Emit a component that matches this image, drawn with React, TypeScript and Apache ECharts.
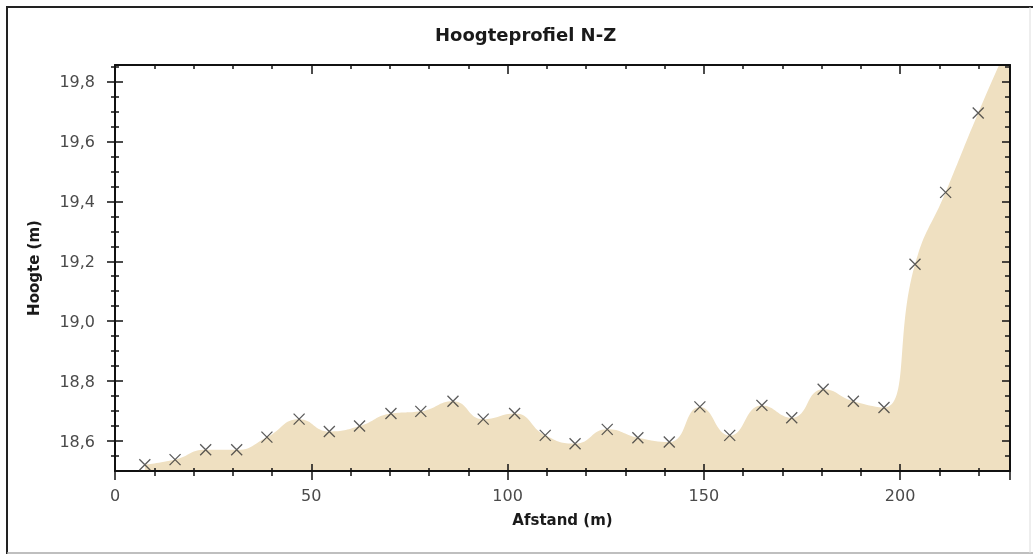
import React, { useEffect, useRef } from "react";
import * as echarts from "echarts";

const distances = [7.6, 15.3, 23.1, 31.0, 38.7, 46.9, 54.6, 62.3, 70.3, 77.9, 86.1, 93.8, 101.8, 109.6, 117.2, 125.4, 133.2, 141.2, 149.0, 156.6, 164.8, 172.4, 180.4, 188.1, 195.9, 203.8, 211.6, 219.9, 227.8];
const heights = [18.521, 18.538, 18.571, 18.571, 18.613, 18.673, 18.632, 18.65, 18.692, 18.699, 18.733, 18.673, 18.692, 18.619, 18.591, 18.639, 18.611, 18.597, 18.714, 18.619, 18.719, 18.678, 18.773, 18.733, 18.712, 19.19, 19.43, 19.695, 19.93];

const xMin = 0;
const xMax = 228;
const xInterval = 50;
const yMin = 18.5;
const yMax = 19.855;
const yMajorTicks = [18.6, 18.8, 19.0, 19.2, 19.4, 19.6, 19.8];
const yMinorTicks = [18.55, 18.65, 18.7, 18.75, 18.85, 18.9, 18.95, 19.05, 19.1, 19.15, 19.25, 19.3, 19.35, 19.45, 19.5, 19.55, 19.65, 19.7, 19.75, 19.85];

const FONT = "DejaVu Sans";
const AXIS_COLOR = "#111";

const tl = () => ({ color: AXIS_COLOR, width: 1.5 });
const al = () => ({ color: AXIS_COLOR, width: 2 });

export default function App() {
  const ref = useRef<HTMLDivElement>(null);
  useEffect(() => {
    if (!ref.current) return;
    const chart = echarts.init(ref.current, null, { renderer: "svg" });
    const points = distances.map((d, i) => [d, heights[i]]);

    const xAxes = [
      {
        type: "value", min: xMin, max: xMax, interval: xInterval, position: "bottom", z: 3,
        name: "Afstand (m)",
        nameLocation: "middle",
        nameGap: 41,
        nameTextStyle: { fontFamily: FONT, fontSize: 15, fontWeight: "bold", color: "#1a1a1a" },
        axisLine: { show: true, lineStyle: al() },
        axisTick: { show: true, inside: false, length: 9, lineStyle: tl() },
        minorTick: { show: true, splitNumber: 5, length: 5, lineStyle: tl() },
        axisLabel: { show: true, showMaxLabel: false, margin: 16, fontFamily: FONT, fontSize: 16, color: "#4a4a4a" },
        splitLine: { show: false },
      },
      {
        type: "value", min: xMin, max: xMax, interval: xInterval, position: "bottom", z: 3,
        axisLine: { show: false },
        axisTick: { show: true, inside: true, length: 7, lineStyle: tl() },
        minorTick: { show: true, splitNumber: 5, length: 3, lineStyle: tl() },
        axisLabel: { show: false },
        splitLine: { show: false },
      },
      {
        type: "value", min: xMin, max: xMax, interval: xInterval, position: "top", z: 3,
        axisLine: { show: true, lineStyle: al() },
        axisTick: { show: true, inside: true, length: 9, lineStyle: tl() },
        minorTick: { show: true, splitNumber: 5, length: 4, lineStyle: tl() },
        axisLabel: { show: false },
        splitLine: { show: false },
      },
    ];

    const yPlain = (position: string, inside: boolean, length: number, ticks: number[], line: boolean) => ({
      type: "value", min: yMin, max: yMax, position, z: 3,
      axisLine: { show: line, lineStyle: al() },
      axisTick: { show: true, inside, length, customValues: ticks, lineStyle: tl() },
      axisLabel: { show: false },
      splitLine: { show: false },
    });

    const yAxes = [
      {
        type: "value", min: yMin, max: yMax, position: "left", z: 3,
        name: "Hoogte (m)",
        nameLocation: "middle",
        nameGap: 74,
        nameRotate: 90,
        nameTextStyle: { fontFamily: FONT, fontSize: 15, fontWeight: "bold", color: "#1a1a1a" },
        axisLine: { show: true, lineStyle: al() },
        axisTick: { show: true, inside: false, length: 8, customValues: yMajorTicks, lineStyle: tl() },
        axisLabel: {
          show: true,
          margin: 20,
          customValues: yMajorTicks,
          fontFamily: FONT,
          fontSize: 16,
          color: "#4a4a4a",
          formatter: (v: number) => v.toFixed(1).replace(".", ","),
        },
        splitLine: { show: false },
      },
      yPlain("left", false, 4, yMinorTicks, false),
      yPlain("left", true, 8, yMajorTicks, false),
      yPlain("left", true, 4, yMinorTicks, false),
      yPlain("right", true, 8, yMajorTicks, true),
      yPlain("right", true, 5, yMinorTicks, false),
    ];

    chart.setOption({
      animation: false,
      title: {
        text: "Hoogteprofiel N-Z",
        left: 430,
        top: 20,
        textStyle: { fontFamily: FONT, fontSize: 18, fontWeight: "bold", color: "#1a1a1a" },
      },
      grid: { left: 115, top: 65, right: 23, bottom: 83 },
      graphic: [
        { type: "line", shape: { x1: 6, y1: 7, x2: 1033, y2: 7 }, style: { stroke: "#222", lineWidth: 2 } },
        { type: "line", shape: { x1: 7, y1: 6, x2: 7, y2: 554 }, style: { stroke: "#222", lineWidth: 2 } },
        { type: "line", shape: { x1: 7, y1: 553, x2: 1033, y2: 553 }, style: { stroke: "#aaa", lineWidth: 1.5 } },
        { type: "line", shape: { x1: 1030, y1: 7, x2: 1030, y2: 553 }, style: { stroke: "#ddd", lineWidth: 1 } },
      ],
      xAxis: xAxes,
      yAxis: yAxes,
      series: [
        {
          type: "line",
          xAxisIndex: 0,
          yAxisIndex: 0,
          data: points,
          smooth: 0.5,
          showSymbol: false,
          symbol: "none",
          lineStyle: { width: 0, opacity: 0 },
          areaStyle: { color: "#EFE0C1", opacity: 1 },
          clip: true,
          z: 1,
          silent: true,
        },
        {
          type: "scatter",
          xAxisIndex: 0,
          yAxisIndex: 0,
          data: points,
          symbol: "path://M0,0L10,10M10,0L0,10",
          symbolSize: 11,
          clip: true,
          itemStyle: { color: "rgba(0,0,0,0)", borderColor: "#333", borderWidth: 1.3 },
          z: 4,
        },
      ],
    });
    return () => chart.dispose();
  }, []);
  return (
    <div
      ref={ref}
      style={{ position: "fixed", left: 0, top: 0, width: 1033, height: 554 }}
    />
  );
}
